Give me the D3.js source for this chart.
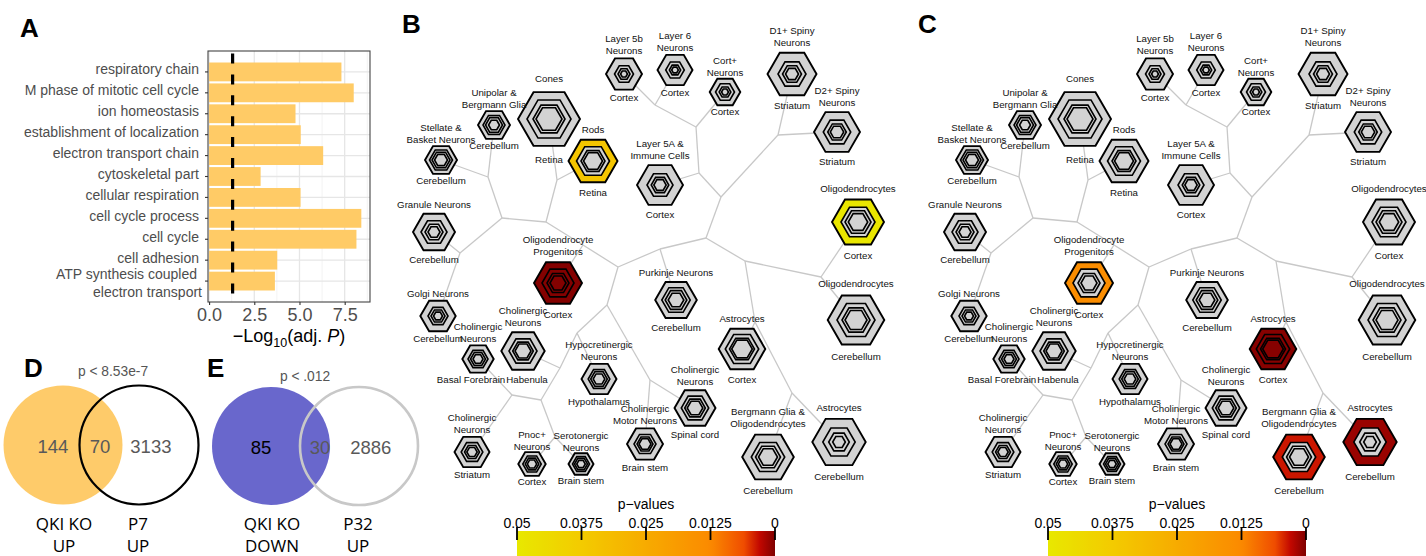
<!DOCTYPE html>
<html>
<head>
<meta charset="utf-8">
<script src="https://cdn.jsdelivr.net/npm/d3@7"></script>
<style>
  body { margin: 0; background: #fff; }
  svg { display: block; }
  text { font-family: "Liberation Sans", Arial, sans-serif; }
</style>
</head>
<body>
<div id="root"></div>
<script>
const width = 1426;
const height = 556;

// ---- panel A: GO terms
const terms = [
  "respiratory chain",
  "M phase of mitotic cell cycle",
  "ion homeostasis",
  "establishment of localization",
  "electron transport chain",
  "cytoskeletal part",
  "cellular respiration",
  "cell cycle process",
  "cell cycle",
  "cell adhesion",
  "ATP synthesis coupled\nelectron transport"
];
const termLogP = [7.32, 8.0, 4.78, 5.07, 6.31, 2.85, 5.06, 8.42, 8.15, 3.77, 3.64];
const xTicksA = [0, 2.5, 5, 7.5];
const xMinorA = [1.25, 3.75, 6.25, 8.75];
const pCutoff = 0.05;

// ---- panels D / E: overlaps
const vennDCounts = [144, 70, 3133];
const vennDSets = [["QKI KO", "UP"], ["P7", "UP"]];
const vennDP = "p < 8.53e-7";
const vennECounts = [85, 30, 2886];
const vennESets = [["QKI KO", "DOWN"], ["P32", "UP"]];
const vennEP = "p < .012";

// ---- panels B / C: cell types on the CSEA tree
const cellTypes = [
  "Cones", "Unipolar &\nBergmann Glia", "Stellate &\nBasket Neurons", "Rods", "Granule Neurons",
  "Layer 5b\nNeurons", "Layer 6\nNeurons", "Cort+\nNeurons", "D1+ Spiny\nNeurons", "D2+ Spiny\nNeurons",
  "Oligodendrocytes", "Layer 5A &\nImmune Cells", "Oligodendrocyte\nProgenitors", "Golgi Neurons",
  "Cholinergic\nNeurons", "Cholinergic\nNeurons", "Hypocretinergic\nNeurons", "Cholinergic\nNeurons",
  "Pnoc+\nNeurons", "Serotonergic\nNeurons", "Cholinergic\nMotor Neurons", "Purkinje Neurons",
  "Astrocytes", "Oligodendrocytes", "Cholinergic\nNeurons", "Bergmann Glia &\nOligodendrocytes", "Astrocytes"
];
const regions = [
  "Retina", "Cerebellum", "Cerebellum", "Retina", "Cerebellum",
  "Cortex", "Cortex", "Cortex", "Striatum", "Striatum",
  "Cortex", "Cortex", "Cortex", "Cerebellum",
  "Basal Forebrain", "Habenula", "Hypothalamus", "Striatum",
  "Cortex", "Brain stem", "Brain stem", "Cerebellum",
  "Cortex", "Cerebellum", "Spinal cord", "Cerebellum", "Cerebellum"
];
// specific genes at pSI thresholds 0.05, 0.01, 0.001, 0.0001
const geneCounts = [
  [961, 484, 256, 169], [256, 121, 72, 30], [256, 132, 81, 42], [600, 272, 144, 90], [441, 169, 81, 36],
  [324, 90, 36, 12], [306, 86, 32, 11], [234, 90, 34, 12], [600, 196, 90, 42], [529, 188, 86, 45],
  [676, 289, 169, 94], [529, 169, 77, 38], [576, 256, 121, 64], [313, 100, 49, 20],
  [246, 100, 56, 25], [471, 196, 106, 64], [306, 117, 69, 34], [306, 117, 56, 27],
  [188, 85, 46, 22], [156, 72, 42, 18], [324, 121, 64, 36], [433, 202, 117, 61],
  [543, 279, 156, 106], [801, 361, 196, 121], [420, 188, 106, 61], [666, 279, 156, 90], [713, 262, 106, 40]
];
// unrooted tree layout (tree units): leaves 0-26, then internal nodes 27-51
const treeX = [149, 94, 41, 193, 34, 224, 275, 325, 392, 437, 458, 260, 158, 38, 78, 123, 199, 72, 132, 181,
  245, 276, 342, 456, 295, 368, 439,
  88, 102, 60, 146, 157, 183, 218, 260, 207, 306, 177, 250, 321, 345, 160, 299, 378, 355, 421, 141, 296, 392, 112, 155, 255];
const treeY = [119, 125, 160, 161, 232, 74, 70, 92, 74, 132, 222, 185, 283, 316, 359, 351, 379, 452, 464, 464,
  444, 300, 349, 320, 408, 457, 442,
  177, 218, 253, 222, 180, 245, 267, 249, 305, 238, 333, 380, 197, 261, 368, 173, 135, 322, 277, 400, 127, 393, 395, 437, 105];
const treeEdges = [
  [27, 2], [27, 1], [28, 27], [28, 29], [29, 4], [29, 13], [28, 30], [30, 31], [31, 0], [31, 3],
  [30, 32], [32, 12], [32, 33], [33, 34], [34, 21], [34, 36], [33, 35], [35, 37], [35, 38], [38, 24],
  [38, 20], [37, 16], [37, 41], [41, 15], [41, 46], [46, 49], [49, 14], [49, 17], [46, 50], [50, 18],
  [50, 19], [36, 39], [36, 40], [39, 42], [39, 43], [43, 8], [43, 9], [42, 11], [42, 47], [47, 7],
  [47, 51], [51, 5], [51, 6], [40, 44], [40, 45], [45, 10], [45, 23], [44, 22], [44, 48], [48, 25], [48, 26]
];
// significant enrichments: cell type index, threshold ring, p-value
const sigBCell = [3, 10, 12, 12, 12, 12];
const sigBRing = [0, 0, 0, 1, 2, 3];
const sigBP = [0.035, 0.049, 0.0002, 0.0002, 0.0002, 0.0002];
const sigCCell = [12, 22, 22, 22, 22, 25, 26];
const sigCRing = [0, 0, 1, 2, 3, 0, 0];
const sigCP = [0.0135, 0.0003, 0.0003, 0.0003, 0.0003, 0.0036, 0.0012];
const pTicks = [0.05, 0.0375, 0.025, 0.0125, 0];

// nudges for the two region labels that sit side by side
const regionNudge = { 14: -7, 15: 4 };

const heat = d3.scaleLinear()
  .domain([0.05, 0.0375, 0.025, 0.0125, 0.006, 0.003, 0])
  .range(["#e8e800", "#f3cb00", "#f7ab00", "#fb8a00", "#ef4c00", "#c20800", "#800000"]);

let svg = d3
  .select("#root")
  .append("svg")
  .attr("width", width)
  .attr("height", height);

function letter(t, x, y) {
  svg.append("text").attr("x", x).attr("y", y).text(t)
    .style("font-size", "26px").style("font-weight", "bold").attr("fill", "#000");
}

// ================= panel A =================
let xA = d3.scaleLinear().domain([-0.06, 8.9]).range([208, 370]);
let yA = d3.scaleBand().domain(terms).range([51, 302]).paddingInner(0.1).paddingOuter(0.55);
let gA = svg.append("g");

gA.selectAll(".minor").data(xMinorA).enter().append("line")
  .attr("x1", d => xA(d)).attr("x2", d => xA(d)).attr("y1", 51).attr("y2", 302)
  .attr("stroke", "#f0f0f0").attr("stroke-width", 0.8);
gA.selectAll(".major").data(xTicksA).enter().append("line")
  .attr("x1", d => xA(d)).attr("x2", d => xA(d)).attr("y1", 51).attr("y2", 302)
  .attr("stroke", "#e6e6e6").attr("stroke-width", 1.3);
gA.selectAll(".hgrid").data(terms).enter().append("line")
  .attr("x1", 208).attr("x2", 370)
  .attr("y1", d => yA(d) + yA.bandwidth() / 2).attr("y2", d => yA(d) + yA.bandwidth() / 2)
  .attr("stroke", "#e6e6e6").attr("stroke-width", 1.3);

gA.selectAll("rect.bar").data(termLogP).enter().append("rect")
  .attr("class", "bar")
  .attr("x", xA(0))
  .attr("y", (d, i) => yA(terms[i]))
  .attr("width", d => xA(d) - xA(0))
  .attr("height", yA.bandwidth())
  .attr("fill", "#ffcb66");

gA.append("line")
  .attr("x1", xA(-Math.log10(pCutoff))).attr("x2", xA(-Math.log10(pCutoff)))
  .attr("y1", 52).attr("y2", 302)
  .attr("stroke", "#000").attr("stroke-width", 3.2)
  .attr("stroke-dasharray", "10,10.9").attr("stroke-dashoffset", -1.5);

gA.append("rect").attr("x", 208).attr("y", 51).attr("width", 162).attr("height", 251)
  .attr("fill", "none").attr("stroke", "#444").attr("stroke-width", 1.1);

let xAxisA = d3.axisBottom(xA).tickValues(xTicksA).tickFormat(d3.format(".1f")).tickSize(3);
gA.append("g").attr("transform", "translate(0,302)").call(xAxisA)
  .call(g => g.select(".domain").remove())
  .call(g => g.selectAll(".tick line").attr("stroke", "#333").attr("stroke-width", 1.1))
  .call(g => g.selectAll(".tick text").attr("dy", null).attr("y", 18.5)
    .style("font-size", "18px").attr("fill", "#4d4d4d").style("font-family", "Liberation Sans, Arial"));

let yAxisA = d3.axisLeft(yA).tickSize(3).tickFormat("");
gA.append("g").attr("transform", "translate(208,0)").call(yAxisA)
  .call(g => g.select(".domain").remove())
  .call(g => g.selectAll(".tick line").attr("stroke", "#333").attr("stroke-width", 1.1));

terms.forEach((t, i) => {
  let lines = t.split("\n");
  let cy = yA(t) + yA.bandwidth() / 2;
  lines.forEach((ln, k) => {
    gA.append("text")
      .attr("x", lines.length > 1 ? (k === 0 ? 197 : 202) : 199)
      .attr("y", lines.length > 1 ? cy + 2.5 + (k === 0 ? -5 : 13) : cy + 2.5)
      .attr("text-anchor", "end")
      .style("font-size", "14px")
      .attr("fill", "#4d4d4d")
      .text(ln);
  });
});

let xTitle = gA.append("text").attr("x", 289).attr("y", 342).attr("text-anchor", "middle")
  .style("font-size", "18px").attr("fill", "#000");
xTitle.append("tspan").text("\u2212Log");
xTitle.append("tspan").text("10").attr("dy", 5).style("font-size", "12.5px");
xTitle.append("tspan").text("(adj. ").attr("dy", -5);
xTitle.append("tspan").text("P").style("font-style", "italic");
xTitle.append("tspan").text(")");

letter("A", 20, 37);

// ================= panels D and E =================
function venn(cx1, cx2, cy, r, fill, ring, counts, sets, pText, pX, pY, countColors) {
  let g = svg.append("g");
  g.append("circle").attr("cx", cx1).attr("cy", cy).attr("r", r).attr("fill", fill);
  g.append("circle").attr("cx", cx2).attr("cy", cy).attr("r", r)
    .attr("fill", "none").attr("stroke", ring).attr("stroke-width", ring === "#000" ? 2.2 : 2.6);
  let xs = [cx1 - r * 0.17, (cx1 + cx2) / 2 + (ring === "#000" ? -1 : 5), cx2 + r * 0.2];
  counts.forEach((c, i) => {
    g.append("text").attr("x", xs[i]).attr("y", cy + 8).attr("text-anchor", "middle")
      .style("font-size", "18.5px").attr("fill", countColors[i]).text(c);
  });
  [cx1, cx2].forEach((cx, i) => {
    sets[i].forEach((ln, k) => {
      g.append("text").attr("x", cx + (i === 0 ? 1 : -1)).attr("y", 530 + k * 22).attr("text-anchor", "middle")
        .style("font-family", "Open Sans, sans-serif").style("font-size", "17px").attr("fill", "#000").text(ln);
    });
  });
  g.append("text").attr("x", pX).attr("y", pY).attr("text-anchor", "middle")
    .style("font-size", "13.8px").attr("fill", "#555").text(pText);
}
venn(63, 139, 445, 59.5, "#fecb6a", "#000", vennDCounts, vennDSets, vennDP, 113, 376,
  ["#595959", "#595959", "#595959"]);
venn(271, 359, 446, 59, "#6967cc", "#c8c8c8", vennECounts, vennESets, vennEP, 305, 380.5,
  ["#000", "#595959", "#595959"]);
letter("D", 24, 377);
letter("E", 207, 377);

// ================= panels B and C =================
let rScale = d3.scaleSqrt().domain([0, 1024]).range([0, 32]);
let hexLine = d3.line().curve(d3.curveLinearClosed);
function hexagon(r) {
  return hexLine(d3.range(6).map(k => [r * Math.cos(k * Math.PI / 3), r * Math.sin(k * Math.PI / 3)]));
}

function drawTree(x0, sigCell, sigRing, sigP) {
  let xT = d3.scaleLinear().domain([0, 500]).range([x0, x0 + 500]);
  let yT = d3.scaleLinear().domain([0, 556]).range([0, 556]);
  let g = svg.append("g");

  g.selectAll("line.edge").data(treeEdges).enter().append("line")
    .attr("class", "edge")
    .attr("x1", d => xT(treeX[d[0]])).attr("y1", d => yT(treeY[d[0]]))
    .attr("x2", d => xT(treeX[d[1]])).attr("y2", d => yT(treeY[d[1]]))
    .attr("stroke", "#c8c8c8").attr("stroke-width", 1.3);

  let nodes = g.selectAll("g.cell").data(cellTypes).enter().append("g")
    .attr("class", "cell")
    .attr("transform", (d, i) => "translate(" + xT(treeX[i]) + "," + yT(treeY[i]) + ")");

  nodes.each(function (d, i) {
    let node = d3.select(this);
    geneCounts[i].forEach((n, j) => {
      let fill = "#d3d3d3";
      sigCell.forEach((c, s) => {
        if (c === i && sigRing[s] === j) fill = heat(sigP[s]);
      });
      node.append("path").attr("d", hexagon(rScale(n)))
        .attr("fill", fill).attr("stroke", "#000")
        .attr("stroke-width", j === 0 ? 1.9 : 1.6)
        .attr("stroke-linejoin", "miter");
    });
    let r0 = rScale(geneCounts[i][0]);
    let lines = d.split("\n");
    lines.forEach((ln, k) => {
      node.append("text").attr("x", 0)
        .attr("y", -1.3 * r0 - (lines.length - 1 - k) * 12 + 3.5)
        .attr("text-anchor", "middle").style("font-size", "9.7px").attr("fill", "#111").text(ln);
    });
    node.append("text").attr("x", regionNudge[i] || 0).attr("y", 1.3 * r0 + 3.5)
      .attr("text-anchor", "middle").style("font-size", "9.7px").attr("fill", "#111").text(regions[i]);
  });

  // colour bar
  let cx = d3.scaleLinear().domain([0.05, 0]).range([x0 + 117, x0 + 375]);
  let gradId = "grad" + x0;
  let grad = svg.append("defs").append("linearGradient").attr("id", gradId)
    .attr("x1", "0%").attr("x2", "100%").attr("y1", "0%").attr("y2", "0%");
  d3.range(0, 1.0001, 0.02).forEach(f => {
    grad.append("stop").attr("offset", (f * 100) + "%").attr("stop-color", heat(0.05 * (1 - f)));
  });
  g.append("rect").attr("x", cx(0.05)).attr("y", 531).attr("width", cx(0) - cx(0.05)).attr("height", 30)
    .attr("fill", "url(#" + gradId + ")");
  g.selectAll("line.ptick").data(pTicks).enter().append("line")
    .attr("x1", d => cx(d)).attr("x2", d => cx(d)).attr("y1", 527).attr("y2", 540)
    .attr("stroke", "#000").attr("stroke-width", 1.8);
  g.selectAll("text.plab").data(pTicks).enter().append("text")
    .attr("x", d => cx(d)).attr("y", 528).attr("text-anchor", "middle")
    .style("font-size", "14px").attr("fill", "#000").text(d3.format("~g"));
  g.append("text").attr("x", cx(0.025)).attr("y", 509).attr("text-anchor", "middle")
    .style("font-size", "14px").attr("fill", "#000").text("p\u2212values");
}

drawTree(400, sigBCell, sigBRing, sigBP);
drawTree(931, sigCCell, sigCRing, sigCP);
letter("B", 402, 33);
letter("C", 918, 33);
</script>
</body>
</html>
